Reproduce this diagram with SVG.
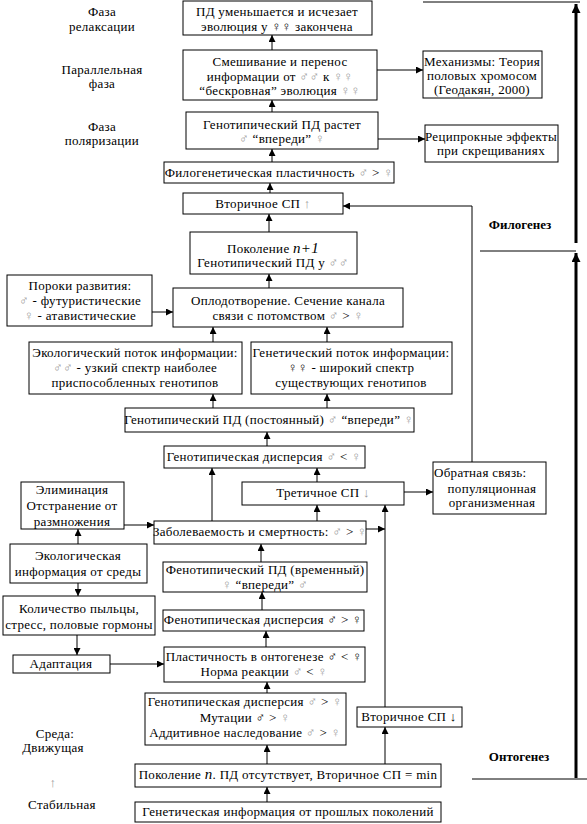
<svg xmlns="http://www.w3.org/2000/svg" width="587" height="824" viewBox="0 0 587 824">
<style>
  rect.b { fill: #fff; stroke: #000; stroke-width: 1; }
  text { font-size: 13px; letter-spacing: 0.3px; fill: #000; text-anchor: middle; }
  .g { fill: #9a9a9a; }
  .i { font-style: italic; font-size: 15px; }
  .bold { font-weight: bold; font-size: 13px; letter-spacing: 0; }
  .c line, .c polyline { stroke: #000; stroke-width: 1; fill: none; marker-end: url(#ah); }
  .thick { stroke: #000; stroke-width: 3; fill: none; }
  .thin { stroke: #000; stroke-width: 1; fill: none; }
</style>
<defs>
  <marker id="ah" markerUnits="userSpaceOnUse" markerWidth="8" markerHeight="7" refX="7" refY="3.5" orient="auto">
    <path d="M0,0 L7,3.5 L0,7 z" fill="#000"/>
  </marker>
  <marker id="ahb" markerUnits="userSpaceOnUse" markerWidth="10" markerHeight="9" refX="9" refY="4.5" orient="auto">
    <path d="M0,0 L9,4.5 L0,9 z" fill="#000"/>
  </marker>
</defs>

<g font-family="Liberation Serif, serif">
<g id="labels">
  <text x="102" y="16">Фаза</text>
  <text x="102" y="31">релаксации</text>
  <text x="102" y="74">Параллельная</text>
  <text x="102" y="88">фаза</text>
  <text x="102" y="131">Фаза</text>
  <text x="102" y="145">поляризации</text>
  <text x="55" y="738">Среда:</text>
  <text x="53" y="752">Движущая</text>
  <text x="53" y="787" class="g">↑</text>
  <text x="62" y="809">Стабильная</text>
  <text x="520" y="229" class="bold">Филогенез</text>
  <text x="519" y="761" class="bold">Онтогенез</text>
</g>

<g id="n1"><rect class="b" x="183" y="1" width="189" height="34"/>
  <text x="277" y="16">ПД уменьшается и исчезает</text>
  <text x="277" y="31">эволюция у ♀♀ закончена</text></g>
<g id="n2"><rect class="b" x="183" y="50" width="194" height="50"/>
  <text x="280" y="66">Смешивание и перенос</text>
  <text x="280" y="81">информации от <tspan class="g">♂♂</tspan> к <tspan class="g">♀♀</tspan></text>
  <text x="280" y="95">“бескровная” эволюция <tspan class="g">♀♀</tspan></text></g>
<g id="n3"><rect class="b" x="423" y="51" width="119" height="47"/>
  <text x="482" y="66">Механизмы: Теория</text>
  <text x="482" y="80">половых хромосом</text>
  <text x="482" y="94">(Геодакян, 2000)</text></g>
<g id="n4"><rect class="b" x="186" y="112" width="192" height="37"/>
  <text x="282" y="129">Генотипический ПД растет</text>
  <text x="282" y="143"><tspan class="g">♂</tspan> “впереди” <tspan class="g">♀</tspan></text></g>
<g id="n5"><rect class="b" x="425" y="125" width="133" height="37"/>
  <text x="491" y="141">Реципрокные эффекты</text>
  <text x="491" y="155">при скрещиваниях</text></g>
<g id="n6"><rect class="b" x="164" y="162" width="230" height="21"/>
  <text x="279" y="177">Филогенетическая пластичность <tspan class="g">♂</tspan> &gt; <tspan class="g">♀</tspan></text></g>
<g id="n7"><rect class="b" x="183" y="193" width="160" height="21"/>
  <text x="263" y="208">Вторичное СП <tspan class="g">↑</tspan></text></g>
<g id="n8"><rect class="b" x="190" y="232" width="167" height="42"/>
  <text x="273" y="253">Поколение <tspan class="i">n+1</tspan></text>
  <text x="273" y="267">Генотипический ПД у <tspan class="g">♂♂</tspan></text></g>
<g id="n9"><rect class="b" x="7" y="275" width="145" height="51"/>
  <text x="80" y="290">Пороки развития:</text>
  <text x="80" y="305"><tspan class="g">♂</tspan> - футуристические</text>
  <text x="80" y="320"><tspan class="g">♀</tspan> - атавистические</text></g>
<g id="n10"><rect class="b" x="173" y="288" width="230" height="39"/>
  <text x="288" y="305">Оплодотворение. Сечение канала</text>
  <text x="288" y="320">связи с  потомством <tspan class="g">♂</tspan> &gt; <tspan class="g">♀</tspan></text></g>
<g id="n11"><rect class="b" x="29" y="342" width="213" height="52"/>
  <text x="135" y="357">Экологический поток информации:</text>
  <text x="135" y="372"><tspan class="g">♂♂</tspan> - узкий спектр наиболее</text>
  <text x="135" y="387">приспособленных генотипов</text></g>
<g id="n12"><rect class="b" x="251" y="342" width="201" height="52"/>
  <text x="351" y="357">Генетический поток информации:</text>
  <text x="351" y="372">♀♀ - широкий спектр</text>
  <text x="351" y="387">существующих генотипов</text></g>
<g id="n13"><rect class="b" x="125" y="408" width="289" height="24"/>
  <text x="269" y="424">Генотипический ПД (постоянный) <tspan class="g">♂</tspan> “впереди” <tspan class="g">♀</tspan></text></g>
<g id="n14"><rect class="b" x="164" y="446" width="201" height="22"/>
  <text x="264" y="461">Генотипическая дисперсия <tspan class="g">♂</tspan> &lt; <tspan class="g">♀</tspan></text></g>
<g id="n15"><rect class="b" x="242" y="482" width="162" height="23"/>
  <text x="323" y="497">Третичное СП <tspan class="g">↓</tspan></text></g>
<g id="n16"><rect class="b" x="433" y="462" width="113" height="52"/>
  <text x="434" y="477" style="text-anchor:start">Обратная связь:</text>
  <text x="492" y="493">популяционная</text>
  <text x="492" y="507">организменная</text></g>
<g id="n17"><rect class="b" x="21" y="482" width="103" height="47"/>
  <text x="72" y="494">Элиминация</text>
  <text x="72" y="510">Отстранение от</text>
  <text x="72" y="526">размножения</text></g>
<g id="n18"><rect class="b" x="154" y="521" width="212" height="23"/>
  <text x="260" y="536">Заболеваемость и смертность: <tspan class="g">♂</tspan> &gt; <tspan class="g">♀</tspan></text></g>
<g id="n19"><rect class="b" x="10" y="544" width="137" height="39"/>
  <text x="78" y="560">Экологическая</text>
  <text x="78" y="576">информация от среды</text></g>
<g id="n20"><rect class="b" x="163" y="562" width="204" height="30"/>
  <text x="265" y="574">Фенотипический ПД (временный)</text>
  <text x="265" y="589"><tspan class="g">♀</tspan> “впереди” <tspan class="g">♂</tspan></text></g>
<g id="n21"><rect class="b" x="3" y="596" width="152" height="39"/>
  <text x="79" y="613">Количество пыльцы,</text>
  <text x="79" y="629">стресс, половые гормоны</text></g>
<g id="n22"><rect class="b" x="163" y="610" width="201" height="21"/>
  <text x="263" y="624">Фенотипическая дисперсия ♂ &gt; ♀</text></g>
<g id="n23"><rect class="b" x="13" y="655" width="97" height="18"/>
  <text x="61" y="668">Адаптация</text></g>
<g id="n24"><rect class="b" x="164" y="647" width="201" height="35"/>
  <text x="264" y="661">Пластичность в онтогенезе ♂ &lt; ♀</text>
  <text x="264" y="676">Норма реакции <tspan class="g">♂</tspan> &lt; <tspan class="g">♀</tspan></text></g>
<g id="n25"><rect class="b" x="145" y="693" width="201" height="52"/>
  <text x="245" y="706">Генотипическая дисперсия <tspan class="g">♂</tspan> &gt; <tspan class="g">♀</tspan></text>
  <text x="245" y="722">Мутации      ♂ &gt; <tspan class="g">♀</tspan></text>
  <text x="245" y="737">Аддитивное наследование <tspan class="g">♂</tspan> &gt; <tspan class="g">♀</tspan></text></g>
<g id="n26"><rect class="b" x="357" y="707" width="105" height="20"/>
  <text x="409" y="721">Вторичное СП ↓</text></g>
<g id="n27"><rect class="b" x="135" y="764" width="306" height="23"/>
  <text x="288" y="779">Поколение <tspan class="i">n</tspan>. ПД отсутствует, Вторичное СП = min</text></g>
<g id="n28"><rect class="b" x="135" y="802" width="306" height="20"/>
  <text x="288" y="816">Генетическая информация от прошлых поколений</text></g>
</g>

<g id="connectors" class="c">
  <line x1="272" y1="50" x2="272" y2="35"/>
  <line x1="272" y1="112" x2="272" y2="100"/>
  <line x1="272" y1="162" x2="272" y2="149"/>
  <line x1="270" y1="193" x2="270" y2="183"/>
  <line x1="269" y1="232" x2="269" y2="214"/>
  <line x1="269" y1="288" x2="269" y2="274"/>
  <line x1="377" y1="70" x2="423" y2="70"/>
  <line x1="378" y1="139" x2="425" y2="139"/>
  <line x1="152" y1="312" x2="173" y2="312"/>
  <line x1="213" y1="342" x2="213" y2="327"/>
  <line x1="327" y1="342" x2="327" y2="327"/>
  <line x1="213" y1="408" x2="213" y2="394"/>
  <line x1="327" y1="408" x2="327" y2="394"/>
  <line x1="267" y1="446" x2="267" y2="432"/>
  <line x1="317" y1="482" x2="317" y2="468"/>
  <line x1="212" y1="521" x2="212" y2="468"/>
  <line x1="317" y1="521" x2="317" y2="505"/>
  <line x1="366" y1="529" x2="385" y2="529"/>
  <line x1="404" y1="492" x2="433" y2="492"/>
  <polyline points="472,462 472,206 343,206"/>
  <line x1="385" y1="707" x2="385" y2="505"/>
  <line x1="385" y1="764" x2="385" y2="727"/>
  <line x1="124" y1="525" x2="154" y2="525"/>
  <line x1="78" y1="544" x2="78" y2="529"/>
  <line x1="78" y1="583" x2="78" y2="596"/>
  <line x1="77" y1="635" x2="77" y2="655"/>
  <line x1="110" y1="664" x2="164" y2="664"/>
  <line x1="261" y1="562" x2="261" y2="544"/>
  <line x1="262" y1="610" x2="262" y2="592"/>
  <line x1="266" y1="647" x2="266" y2="631"/>
  <line x1="267" y1="693" x2="267" y2="682"/>
  <line x1="267" y1="764" x2="267" y2="745"/>
  <line x1="267" y1="802" x2="267" y2="787"/>
  <line class="thin" x1="423" y1="2" x2="580" y2="2" style="marker-end:none"/>
  <line class="thick" x1="576" y1="243" x2="576" y2="4" style="marker-end:url(#ahb);stroke-width:3"/>
  <line class="thin" x1="480" y1="251" x2="576" y2="251" style="marker-end:none"/>
  <line class="thick" x1="576" y1="778" x2="576" y2="253" style="marker-end:url(#ahb);stroke-width:3"/>
  <line class="thin" x1="472" y1="779" x2="587" y2="779" style="marker-end:none"/>
</g>
</svg>
